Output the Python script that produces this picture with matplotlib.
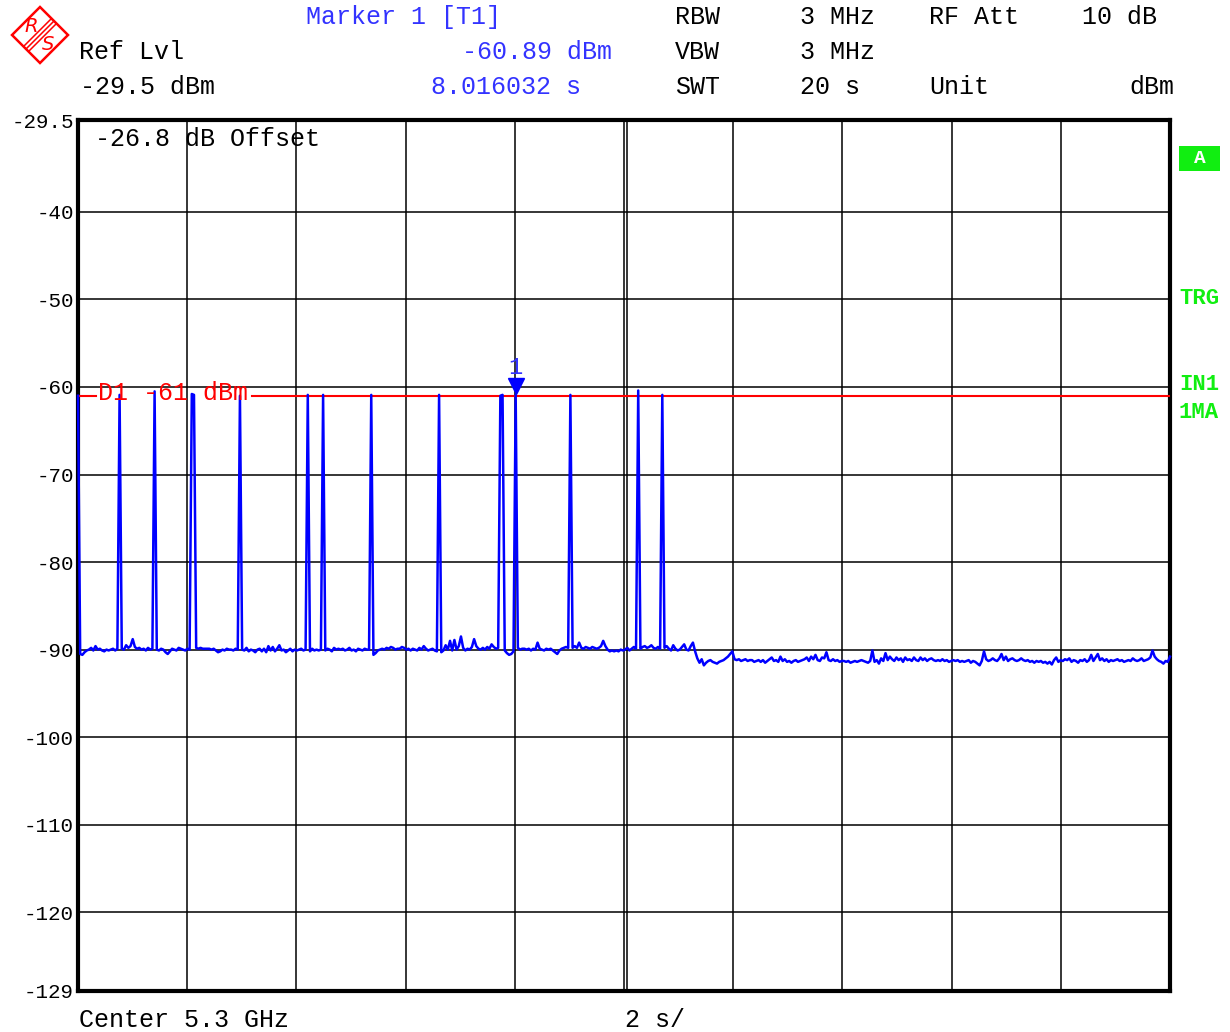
import numpy as np
import matplotlib
matplotlib.use('Agg')
from matplotlib import pyplot as plt
from matplotlib.patches import Polygon, Rectangle
from matplotlib import transforms

# trace 1 (dBm), 500 sweep points over 20 s
trace_txt = """
-61.0 -90.5 -90.6 -90.3 -90.1 -90.0 -89.8 -90.1 -89.6 -90.0
-89.9 -90.1 -90.2 -90.0 -90.1 -90.0 -89.9 -90.1 -89.9 -60.9
-89.9 -90.0 -89.5 -89.8 -89.6 -88.8 -89.7 -89.9 -89.8 -90.0
-89.9 -90.1 -89.8 -90.0 -89.9 -60.5 -90.0 -90.1 -89.9 -90.0
-90.3 -90.5 -90.2 -89.9 -90.0 -90.1 -89.8 -89.9 -90.0 -90.1
-89.9 -90.0 -60.8 -60.9 -89.8 -89.9 -89.8 -89.9 -89.9 -89.9
-89.9 -90.0 -89.9 -90.1 -90.3 -90.2 -90.0 -90.1 -89.9 -90.0
-90.0 -90.1 -89.9 -90.0 -61.0 -90.0 -90.1 -89.8 -90.2 -90.0
-90.1 -90.3 -90.0 -89.9 -90.2 -89.9 -90.3 -89.6 -90.1 -89.7
-90.2 -89.9 -89.5 -90.1 -90.0 -90.3 -90.1 -89.9 -90.2 -90.0
-90.1 -90.0 -89.9 -90.1 -90.0 -60.9 -90.2 -89.9 -90.1 -90.0
-90.1 -90.0 -60.9 -90.1 -89.9 -90.0 -90.2 -89.8 -90.0 -89.9
-90.0 -89.9 -90.1 -90.0 -89.8 -90.1 -90.0 -90.2 -89.9 -90.0
-90.1 -89.9 -90.0 -90.0 -60.9 -90.6 -90.4 -90.1 -90.0 -89.9
-90.0 -89.8 -89.9 -89.7 -89.8 -90.0 -89.9 -89.9 -89.7 -89.8
-90.0 -89.9 -90.1 -89.9 -90.0 -90.1 -89.8 -90.0 -89.6 -89.9
-90.1 -90.0 -89.9 -90.1 -90.2 -60.9 -90.3 -90.1 -89.5 -90.0
-89.0 -90.1 -88.9 -90.0 -89.6 -88.5 -89.8 -90.1 -89.9 -90.0
-89.7 -88.8 -89.6 -89.9 -90.0 -89.8 -90.0 -89.7 -89.9 -89.4
-89.7 -89.9 -89.8 -61.0 -60.9 -90.1 -90.4 -90.6 -90.5 -90.2
-60.89 -89.8 -90.0 -89.9 -89.9 -90.0 -89.9 -90.1 -89.9 -90.0
-89.2 -89.9 -90.0 -90.1 -89.9 -90.0 -89.9 -90.1 -90.3 -90.5
-90.1 -89.9 -89.8 -89.7 -89.8 -60.9 -89.8 -89.6 -89.8 -89.2
-89.8 -89.9 -89.7 -89.8 -89.9 -89.7 -89.8 -89.9 -89.8 -89.6
-89.0 -89.6 -90.0 -90.2 -90.1 -90.2 -90.1 -90.2 -90.0 -90.1
-90.0 -89.8 -90.1 -89.9 -89.7 -89.9 -60.4 -89.9 -89.7 -89.6
-89.8 -89.7 -89.5 -89.8 -89.9 -89.7 -89.9 -60.9 -89.8 -89.6
-89.9 -90.1 -89.5 -89.9 -90.1 -90.0 -89.7 -89.4 -90.0 -90.1
-89.6 -89.2 -90.2 -91.0 -91.5 -91.1 -91.8 -91.5 -91.3 -91.2
-91.4 -91.5 -91.6 -91.4 -91.3 -91.2 -91.0 -90.8 -90.5 -90.2
-91.1 -91.2 -91.1 -91.3 -91.2 -91.1 -91.3 -91.2 -91.2 -91.4
-91.3 -91.2 -91.4 -91.2 -91.5 -91.3 -91.1 -90.9 -91.3 -91.2
-91.4 -90.8 -91.3 -91.1 -91.4 -91.3 -91.5 -91.3 -91.2 -91.4
-91.3 -91.2 -91.1 -90.9 -91.3 -90.8 -91.1 -90.6 -91.2 -91.3
-90.9 -91.0 -90.3 -91.2 -91.3 -91.1 -91.3 -91.2 -91.4 -91.3
-91.3 -91.4 -91.3 -91.5 -91.4 -91.3 -91.4 -91.3 -91.2 -91.3
-91.4 -91.5 -91.3 -90.1 -91.4 -91.2 -91.6 -91.0 -91.3 -90.4
-91.2 -90.8 -91.1 -91.3 -90.9 -91.2 -91.0 -91.4 -90.9 -91.2
-91.1 -91.3 -90.9 -91.2 -91.3 -90.9 -91.2 -91.0 -91.3 -91.1
-91.0 -91.2 -91.3 -91.2 -91.3 -91.1 -91.3 -91.2 -91.4 -91.3
-91.2 -91.3 -91.2 -91.4 -91.3 -91.4 -91.3 -91.2 -91.5 -91.3
-91.4 -91.6 -91.8 -91.3 -90.2 -91.1 -91.3 -91.2 -91.0 -91.2
-91.3 -91.0 -90.5 -91.2 -90.8 -91.3 -91.1 -91.0 -91.2 -91.3
-91.2 -91.0 -91.2 -91.3 -91.2 -91.4 -91.3 -91.5 -91.3 -91.4
-91.3 -91.5 -91.4 -91.6 -91.4 -91.7 -91.2 -90.9 -91.4 -91.2
-91.3 -91.1 -91.2 -91.0 -91.4 -91.2 -91.3 -91.5 -91.2 -91.3
-91.1 -91.4 -91.2 -90.6 -91.3 -90.9 -90.5 -91.2 -91.0 -91.3
-91.1 -91.4 -91.2 -91.3 -91.2 -91.1 -91.3 -91.2 -91.4 -91.3
-91.2 -91.3 -91.0 -91.2 -91.3 -91.2 -91.0 -91.3 -91.2 -91.1
-90.9 -90.1 -90.8 -91.1 -91.3 -91.4 -91.6 -91.3 -91.4 -90.8
"""
level = np.array(trace_txt.split(), dtype=float)
sweep_time = 20.0
t = np.linspace(0, sweep_time, len(level))

ref_lvl = -29.5
bottom_lvl = -129
y_ticks = [-129, -120, -110, -100, -90, -80, -70, -60, -50, -40, -29.5]
y_labels = ['-129', '-120', '-110', '-100', '-90', '-80', '-70', '-60', '-50', '-40', '-29.5']
x_div = [0, 2, 4, 6, 8, 10, 12, 14, 16, 18, 20]
d1_level = -61
marker_t = 8.016032
marker_lvl = -60.89

mono = 'Liberation Mono'
blue = '#0000ff'
tblue = '#3333ff'
red = '#ff0000'
green = '#11ee11'

W, H = 1230, 1032
fig = plt.figure(figsize=(W / 100, H / 100), dpi=100)
fig.patch.set_facecolor('white')

ax = fig.add_axes([78 / W, 1 - 991 / H, (1170 - 78) / W, (991 - 120) / H])
ax.set_xlim(0, sweep_time)
ax.set_ylim(bottom_lvl, ref_lvl)
ax.set_xticks(x_div)
ax.set_xticklabels([])
ax.set_yticks(y_ticks)
ax.set_yticklabels(y_labels, fontfamily=mono, fontsize=15)
ax.tick_params(length=0, pad=3)
ax.grid(True, color='black', lw=1.1)
ax.axvline(10.064, color='black', lw=1.1)
for s in ax.spines.values():
    s.set_linewidth(3)
    s.set_color('black')

# display line D1, broken around its label
ax.plot([0, 0.33], [d1_level, d1_level], color=red, lw=1.5, zorder=3)
ax.plot([3.19, sweep_time], [d1_level, d1_level], color=red, lw=1.5, zorder=3)

ax.plot(t, level, color=blue, lw=1.8, zorder=4, clip_on=False)

# marker 1
up = transforms.offset_copy(ax.transData, fig=fig, x=0, y=9, units='dots')
ax.plot([marker_t], [marker_lvl], marker='v', ms=11, color=blue, transform=up, zorder=5, clip_on=False)
up2 = transforms.offset_copy(ax.transData, fig=fig, x=0, y=27, units='dots')
ax.text(marker_t, marker_lvl, '1', transform=up2, color=tblue, fontsize=17,
        fontfamily=mono, ha='center', va='center', zorder=5)

# overlay in pixel coordinates
ov = fig.add_axes([0, 0, 1, 1])
ov.set_xlim(0, W)
ov.set_ylim(H, 0)
ov.axis('off')

fs = 18
hdr = [
    ('Marker 1 [T1]', 306, 17, tblue, 'left'),
    ('RBW', 675, 17, 'black', 'left'),
    ('3 MHz', 800, 17, 'black', 'left'),
    ('RF Att', 929, 17, 'black', 'left'),
    ('10 dB', 1082, 17, 'black', 'left'),
    ('Ref Lvl', 79, 52, 'black', 'left'),
    ('-60.89 dBm', 612, 52, tblue, 'right'),
    ('VBW', 675, 52, 'black', 'left'),
    ('3 MHz', 800, 52, 'black', 'left'),
    ('-29.5 dBm', 80, 87, 'black', 'left'),
    ('8.016032 s', 581, 87, tblue, 'right'),
    ('SWT', 675, 87, 'black', 'left'),
    ('20 s', 800, 87, 'black', 'left'),
    ('Unit', 929, 87, 'black', 'left'),
    ('dBm', 1174, 87, 'black', 'right'),
    ('Center 5.3 GHz', 79, 1020, 'black', 'left'),
    ('2 s/', 625, 1020, 'black', 'left'),
    ('-26.8 dB Offset', 95, 139, 'black', 'left'),
    ('D1 -61 dBm', 98, 393, red, 'left'),
]
for txt, x, y, c, ha in hdr:
    ov.text(x, y, txt, color=c, fontsize=fs, fontfamily=mono, ha=ha, va='center')

for txt, y in [('TRG', 299), ('IN1', 385), ('1MA', 413)]:
    ov.text(1179, y, txt, color=green, fontsize=16, fontfamily=mono,
            fontweight='bold', ha='left', va='center')
ov.add_patch(Rectangle((1179, 146), 41, 25, color=green, lw=0))
ov.text(1199.5, 158.5, 'A', color='white', fontsize=14, fontfamily=mono,
        fontweight='bold', ha='center', va='center')

# R&S logo
ov.add_patch(Polygon([(40, 7), (68, 35), (40, 63), (12, 35)], closed=True,
                     fill=False, edgecolor=red, lw=1.8))
for d in (-2.5, 0, 2.5):
    ov.plot([26 + d, 54 + d], [49 + d, 21 + d], color=red, lw=1.1)
ov.text(31, 26, 'R', color=red, fontsize=14, fontfamily='DejaVu Sans',
        style='italic', ha='center', va='center')
ov.text(48, 44, 'S', color=red, fontsize=14, fontfamily='DejaVu Sans',
        style='italic', ha='center', va='center')

fig.savefig('out.png', dpi=100)
